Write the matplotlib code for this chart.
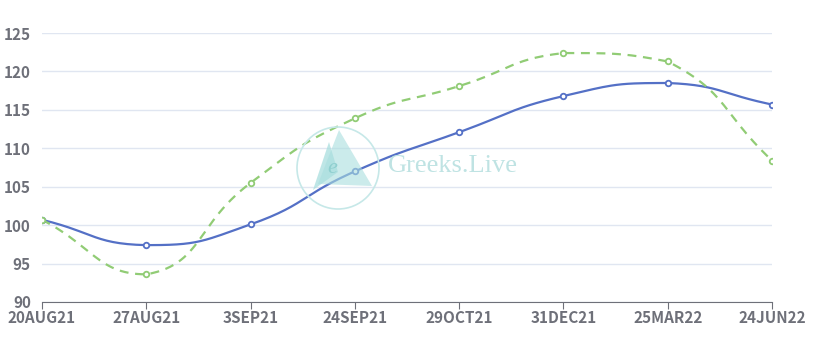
import numpy as np
import matplotlib
matplotlib.use("Agg")
import matplotlib.pyplot as plt
from matplotlib.patches import Circle, Polygon

# categories and series
dates = ["20AUG21", "27AUG21", "3SEP21", "24SEP21", "29OCT21", "31DEC21", "25MAR22", "24JUN22"]
blue_vals = [100.7, 97.4, 100.1, 107.0, 112.1, 116.8, 118.5, 115.7]
green_vals = [100.7, 93.6, 105.5, 113.9, 118.1, 122.4, 121.3, 108.4]

plt.rcParams['font.family'] = ['Noto Sans CJK SC', 'DejaVu Sans']

W, H = 813, 348


def smooth_curve(xs, ys, sx, sy, smooth=0.5, n=30):
    # bezier smoothing with control points kept inside the data's bounding box
    px = np.asarray(xs, float) * sx
    py = np.asarray(ys, float) * sy
    pts = np.column_stack([px, py])
    lo = pts.min(axis=0)
    hi = pts.max(axis=0)
    cps = []
    for i in range(len(pts)):
        p = pts[i]
        prev = pts[i - 1] if i > 0 else p
        nxt = pts[i + 1] if i < len(pts) - 1 else p
        v = (nxt - prev) * smooth
        d0 = np.hypot(*(p - prev))
        d1 = np.hypot(*(p - nxt))
        tot = d0 + d1
        if tot == 0:
            cps.append((p, p))
            continue
        c0 = np.clip(p - v * d0 / tot, lo, hi)
        c1 = np.clip(p + v * d1 / tot, lo, hi)
        cps.append((c0, c1))
    out = [pts[0]]
    t = np.linspace(0, 1, n)[1:, None]
    for i in range(len(pts) - 1):
        p0, p3 = pts[i], pts[i + 1]
        c1, c2 = cps[i][1], cps[i + 1][0]
        seg = ((1 - t) ** 3) * p0 + 3 * ((1 - t) ** 2) * t * c1 + 3 * (1 - t) * t ** 2 * c2 + t ** 3 * p3
        out.extend(seg)
    out = np.array(out)
    return out[:, 0] / sx, out[:, 1] / sy


fig = plt.figure(figsize=(8.13, 3.48), dpi=100)
ax = fig.add_axes([0.0517, 0.1322, 0.8979, 0.7728])

x = np.arange(len(dates))
sx, sy = 104.3, 7.69

bx, by = smooth_curve(x, blue_vals, sx, sy)
gx, gy = smooth_curve(x, green_vals, sx, sy)

ax.plot(bx, by, color='#5470c6', lw=1.6, zorder=3)
ax.plot(gx, gy, color='#91cc75', lw=1.6, ls=(0, (4, 3)), zorder=3)
ax.plot(x, blue_vals, ls='none', marker='o', ms=4, mfc='white', mec='#5470c6', mew=1.3, zorder=4)
ax.plot(x, green_vals, ls='none', marker='o', ms=4, mfc='white', mec='#91cc75', mew=1.3, zorder=4)

ax.set_xlim(0, len(dates) - 1)
ax.set_ylim(90, 125)
ax.set_yticks(range(90, 126, 5))
ax.set_xticks(x)
ax.set_xticklabels(dates)
ax.grid(axis='y', color='#e0e6f1', lw=1)
ax.set_axisbelow(True)
for s in ['top', 'right', 'left']:
    ax.spines[s].set_visible(False)
ax.spines['bottom'].set_color('#6e7079')
ax.tick_params(axis='y', length=0, pad=8, labelsize=11, labelcolor='#6e7079')
ax.tick_params(axis='x', length=5, color='#6e7079', pad=1, labelsize=11, labelcolor='#6e7079')
for lab in ax.get_xticklabels() + ax.get_yticklabels():
    lab.set_fontweight('bold')


# watermark (positions given in pixels from the top-left)
def px(pts):
    return [(a, H - b) for a, b in pts]


wm = '#a9dede'
fig.patches.append(Circle((338, H - 168), 41, transform=None, fill=False, ec='#c6e8e8', lw=1.2, zorder=1))
fig.patches.append(Polygon(px([(313, 190), (329, 142), (338, 172)]), closed=True, transform=None,
                           fc=wm, ec='none', alpha=0.75, zorder=1))
fig.patches.append(Polygon(px([(339, 130), (372, 186), (318, 184)]), closed=True, transform=None,
                           fc=wm, ec='none', alpha=0.6, zorder=1))
fig.text(332 / W, 1 - 168 / H, "e", fontsize=16, family='Liberation Serif',
         color='#8fcfcf', va='center', ha='center', zorder=1, style='italic')
fig.text(388 / W, 1 - 166 / H, "Greeks.Live", fontsize=19, family='Liberation Serif',
         color='#bfe3e3', va='center', ha='left', zorder=1)

fig.savefig("out.png", dpi=100)
